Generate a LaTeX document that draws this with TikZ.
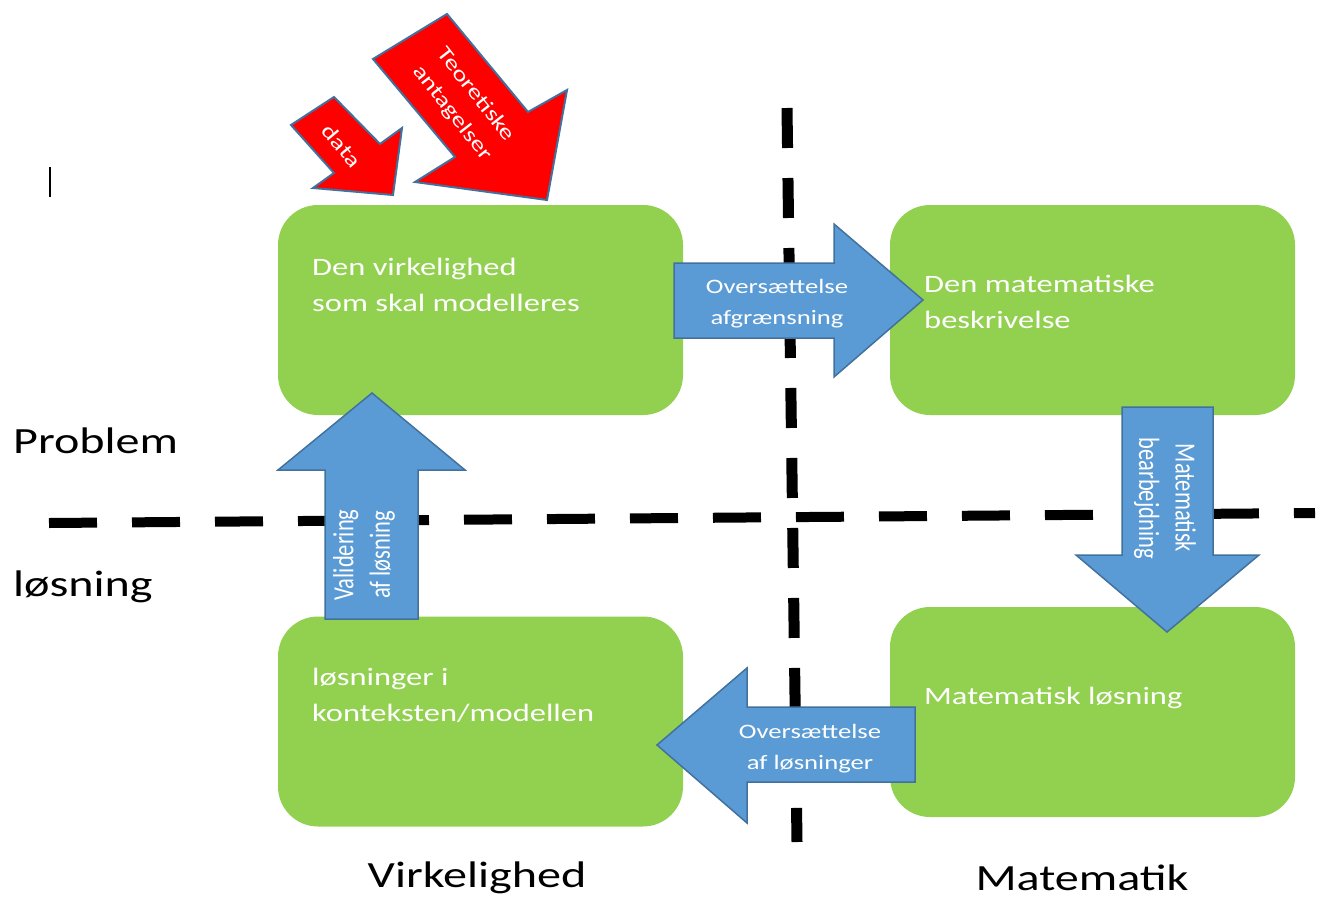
\documentclass[tikz,border=0pt]{standalone}
\usepackage{fontspec}
\setmainfont{Carlito}[FakeStretch=1.3]
\newfontfamily\plainfont{Carlito}
\definecolor{gbox}{HTML}{92D050}
\definecolor{barrow}{HTML}{5B9BD5}
\definecolor{bedge}{HTML}{41719C}
\definecolor{rarrow}{HTML}{FF0000}
\tikzset{
  greenbox/.style={fill=gbox, draw=none, rounded corners=40pt, minimum width=405pt, minimum height=210pt, inner sep=0pt},
  bluearrow/.style={fill=barrow, draw=bedge, line width=1.5pt, line join=miter},
  redarrow/.style={fill=rarrow, draw=bedge, line width=2pt, line join=miter},
  vdashline/.style={line width=11pt, dash pattern=on 40pt off 30pt},
  hdashline/.style={line width=10pt, dash pattern=on 48pt off 35pt},
  boxtext/.style={text=white, font=\fontsize{25}{36}\selectfont, align=left, inner sep=0pt},
  arrowtext/.style={text=white, font=\fontsize{20.5}{31}\selectfont, align=center, inner sep=0pt},
  vtext/.style={text=white, font=\plainfont\fontsize{22.5}{28}\selectfont, align=center, inner sep=0pt, xscale=1.3, transform shape},
  redtext/.style={text=white, font=\fontsize{21}{30}\selectfont, align=center, inner sep=0pt},
  bigtext/.style={font=\fontsize{37}{40}\selectfont, inner sep=0pt}
}
\begin{document}
\begin{tikzpicture}[x=1pt,y=-1pt]
\useasboundingbox (0,0) rectangle (1325,902);
% dashed axes
\coordinate (vtop) at (787,108);
\coordinate (vbot) at (797,842);
\coordinate (hleft) at (49,523);
\coordinate (hright) at (1315,513);
\draw[vdashline] (vtop) -- (vbot);
\draw[hdashline] (hleft) -- (hright);
% cursor mark
\coordinate (cur1) at (50,167);
\coordinate (cur2) at (50,197);
\draw[line width=1.2pt] (cur1) -- (cur2);
% green boxes
\node[greenbox] (real) at (480.5,310) {};
\node[greenbox] (mathdesc) at (1092.5,310) {};
\node[greenbox] (mathsol) at (1092.5,712) {};
\node[greenbox] (ctxsol) at (480.5,721.5) {};
% box texts (base anchor = baseline of last line)
\node[boxtext, anchor=base west] (t1) at (312,311) {Den virkelighed\\som skal modelleres};
\node[boxtext, anchor=base west] (t2) at (924,328) {Den matematiske\\beskrivelse};
\node[boxtext, anchor=base west] (t3) at (924,704) {Matematisk løsning};
\node[boxtext, anchor=base west] (t4) at (312,721) {løsninger i\\konteksten/modellen};
% blue block arrows
\draw[bluearrow] (674,263) -- (834,263) -- (834,224) -- (923,300) -- (834,377) -- (834,338) -- (674,338) -- cycle;
\draw[bluearrow] (1122,407) -- (1213,407) -- (1213,555) -- (1259,555) -- (1167,632) -- (1076,555) -- (1122,555) -- cycle;
\draw[bluearrow] (372,393) -- (465,470) -- (418,470) -- (418,619) -- (325,619) -- (325,470) -- (278,470) -- cycle;
\draw[bluearrow] (657,745) -- (747,668) -- (747,707) -- (915,707) -- (915,782) -- (747,782) -- (747,823) -- cycle;
\node[arrowtext] (a1) at (777,304) {Oversættelse\\afgrænsning};
\node[arrowtext] (a2) at (810,749) {Oversættelse\\af løsninger};
\node[vtext, rotate=-90] (a3) at (1165,498) {Matematisk\\bearbejdning};
\node[vtext, rotate=90] (a4) at (364,555) {Validering\\af løsning};
% red arrows
\draw[redarrow] (291,125) -- (334,97) -- (380,144) -- (402,128) -- (393,195) -- (313,188) -- (334,173) -- cycle;
\draw[redarrow] (373,59) -- (447,14) -- (528,112) -- (567,90) -- (547,200) -- (415,182) -- (455,157) -- cycle;
\node[redtext, rotate=-50] (r1) at (342,146) {data};
\node[redtext, rotate=-52] (r2) at (464,104) {Teoretiske\\antagelser};
% side and bottom labels
\node[bigtext, anchor=base west] (lp) at (13,453) {Problem};
\node[bigtext, anchor=base west] (ll) at (13,596) {løsning};
\node[bigtext] (lv) at (477,878) {Virkelighed};
\node[bigtext] (lm) at (1082,878) {Matematik};
\end{tikzpicture}
\end{document}
